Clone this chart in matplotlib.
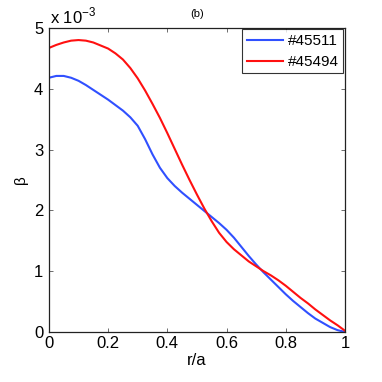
import matplotlib
matplotlib.use('Agg')
import matplotlib.pyplot as plt

plt.rcParams['font.family'] = ['Liberation Sans', 'DejaVu Sans']
plt.rcParams['mathtext.fontset'] = 'custom'
plt.rcParams['mathtext.rm'] = 'Liberation Sans'

# r/a positions and beta profiles (units of 1e-3)
r_a = [0.000, 0.025, 0.050, 0.075, 0.100, 0.125, 0.150, 0.175, 0.200, 0.225,
       0.250, 0.275, 0.300, 0.325, 0.350, 0.375, 0.400, 0.425, 0.450, 0.475,
       0.500, 0.525, 0.550, 0.575, 0.600, 0.625, 0.650, 0.675, 0.700, 0.725,
       0.750, 0.775, 0.800, 0.825, 0.850, 0.875, 0.900, 0.925, 0.950, 0.975,
       1.000]
beta_45511 = [4.18, 4.21, 4.21, 4.18, 4.13, 4.06, 3.98, 3.90, 3.82, 3.73,
              3.64, 3.53, 3.39, 3.17, 2.92, 2.70, 2.53, 2.40, 2.29, 2.19,
              2.09, 1.99, 1.89, 1.79, 1.68, 1.55, 1.40, 1.25, 1.11, 0.98,
              0.86, 0.74, 0.62, 0.51, 0.41, 0.31, 0.22, 0.15, 0.08, 0.03,
              0.00]
beta_45494 = [4.67, 4.72, 4.76, 4.79, 4.80, 4.79, 4.76, 4.71, 4.66, 4.58,
              4.48, 4.34, 4.17, 3.97, 3.75, 3.52, 3.27, 3.01, 2.75, 2.50,
              2.26, 2.03, 1.82, 1.63, 1.48, 1.36, 1.26, 1.16, 1.08, 1.00,
              0.93, 0.85, 0.76, 0.66, 0.56, 0.47, 0.37, 0.28, 0.19, 0.11,
              0.02]
xticks = [0, 0.2, 0.4, 0.6, 0.8, 1]
xticklabels = ['0', '0.2', '0.4', '0.6', '0.8', '1']
yticks = [0, 1, 2, 3, 4, 5]

fig = plt.figure(figsize=(3.82, 3.82), dpi=100)
ax = fig.add_axes([0.128, 0.131, 0.775, 0.796])

ax.plot(r_a, beta_45511, color='#3050ff', linewidth=1.5, label='#45511')
ax.plot(r_a, beta_45494, color='#ff1010', linewidth=1.5, label='#45494')

ax.set_xlim(0, 1)
ax.set_ylim(0, 5)
ax.set_xticks(xticks)
ax.set_xticklabels(xticklabels)
ax.set_yticks(yticks)
ax.tick_params(direction='in', top=True, right=True, length=3, width=0.6,
               labelsize=12, color='#555555')
ax.tick_params(axis='x', pad=3)
ax.tick_params(axis='y', pad=4)
for s in ax.spines.values():
    s.set_linewidth(0.9)
    s.set_color('#222222')

ax.set_xlabel('r/a', fontsize=12, labelpad=1)
ax.set_ylabel('β', fontsize=11, labelpad=4)
ax.set_title('(b)', fontsize=8, pad=8)
ax.text(0.005, 1.005, r'x 10$^{-3}$', transform=ax.transAxes, fontsize=12,
        ha='left', va='bottom')

leg = ax.legend(loc='upper right', fontsize=11, frameon=True, fancybox=False,
                edgecolor='black', borderaxespad=0.1, handlelength=2.4,
                handletextpad=0.3, borderpad=0.3, labelspacing=0.45)
leg.get_frame().set_linewidth(0.8)

fig.savefig('out.png', dpi=100)
